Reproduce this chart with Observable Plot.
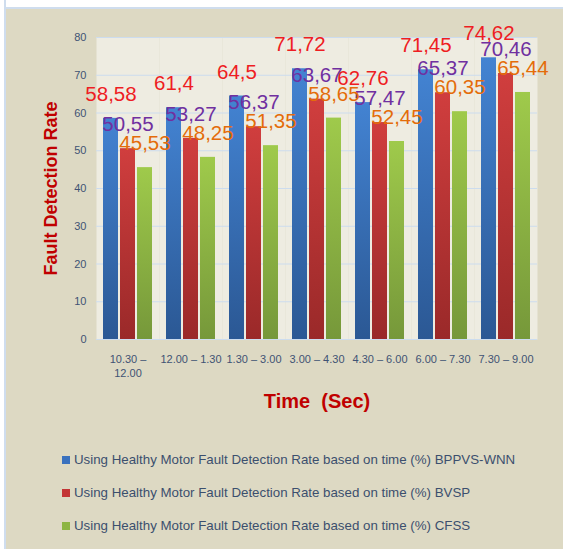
<!DOCTYPE html>
<html><head><meta charset="utf-8">
<script src="https://cdn.jsdelivr.net/npm/d3@7"></script>
<script src="https://cdn.jsdelivr.net/npm/@observablehq/plot@0.6"></script>
<style>
body{margin:0;background:#fff;}
#wrap{position:relative;width:563px;height:549px;background:#DDD9C3;overflow:hidden;font-family:"Liberation Sans",Arial,sans-serif;}
#edgeTop{position:absolute;left:0;top:0;width:563px;height:7px;background:#fff;border-bottom:2px solid #CFDDEE;}
#edgeLeft{position:absolute;left:0;top:0;width:4px;height:549px;background:#fff;border-right:2px solid #CFDDEE;}
#chart{position:absolute;left:0;top:0;}
#legend{position:absolute;left:62px;top:443px;}
.row{display:flex;align-items:center;height:33px;font-size:13.3px;color:#3B4F6E;white-space:nowrap;}
.sw{width:8px;height:8px;margin-right:4px;}
</style></head>
<body>
<div id="wrap">
  <div id="edgeTop"></div><div id="edgeLeft"></div>
  <div id="chart"></div>
  <div id="legend"></div>
</div>
<script>
const times = ["10.30 –\n12.00", "12.00 – 1.30", "1.30 – 3.00", "3.00 – 4.30", "4.30 – 6.00", "6.00 – 7.30", "7.30 – 9.00"];
const seriesKeys = ["BPPVS-WNN", "BVSP", "CFSS"];
const bppvsWnn = [58.58, 61.4, 64.5, 71.72, 62.76, 71.45, 74.62];
const bvsp = [50.55, 53.27, 56.37, 63.67, 57.47, 65.37, 70.46];
const cfss = [45.53, 48.25, 51.35, 58.65, 52.45, 60.35, 65.44];
const yTicks = [0, 10, 20, 30, 40, 50, 60, 70, 80];
const legendPrefix = "Using Healthy Motor Fault Detection Rate based on time (%) ";

const seriesValues = [bppvsWnn, bvsp, cfss];
const barFills = ["url(#gBlue)", "url(#gRed)", "url(#gGreen)"];
const labelColors = ["#EE1D23", "#7030A0", "#E46C0A"];
const swatches = ["#3A72BE", "#C33535", "#8DB543"];

const table = times.flatMap((t, i) => seriesKeys.map((s, j) => ({time: t, series: s, value: seriesValues[j][i]})));
const fmt = v => String(v).replace(".", ",");

const marks = [
  Plot.frame({fill: "#EEECE1", stroke: null}),
  Plot.gridY(yTicks, {stroke: "#CCDCEE", strokeOpacity: 1}),
  Plot.axisY({ticks: yTicks, tickSize: 0, tickPadding: 10, fontSize: 11, fill: "#3F5374",
    label: "Fault Detection Rate", labelAnchor: "center", labelOffset: 52, labelArrow: "none"}),
  Plot.axisFx({anchor: "bottom", tickSize: 0, tickPadding: 13, fontSize: 11, fill: "#3F5374", lineHeight: 1.3,
    label: "Time  (Sec)", labelAnchor: "center", labelOffset: 68, labelArrow: "none"})
];
seriesKeys.forEach((s, j) => {
  const d = table.filter(r => r.series === s);
  marks.push(Plot.barY(d, {fx: "time", x: "series", y: "value", fill: barFills[j]}));
});
seriesKeys.forEach((s, j) => {
  const d = table.filter(r => r.series === s);
  marks.push(Plot.text(d, {fx: "time", x: "series", y: "value", text: r => fmt(r.value), dy: -24,
    fill: labelColors[j], fontSize: 20.5, lineAnchor: "middle", textAnchor: "middle"}));
});

const chart = Plot.plot({
  width: 563, height: 430,
  marginTop: 37, marginBottom: 91, marginLeft: 94, marginRight: 24,
  style: {background: "transparent", fontFamily: "'Liberation Sans', Arial, sans-serif", overflow: "visible"},
  fx: {domain: times, padding: 0, label: null},
  x: {domain: seriesKeys, paddingInner: 0.111, paddingOuter: 0.322, axis: null},
  y: {domain: [0, 80], axis: null, label: null},
  marks
});

const ns = "http://www.w3.org/2000/svg";
const defs = document.createElementNS(ns, "defs");
const grads = [["gBlue", "#4383D2", "#2B5894"], ["gRed", "#D03E3E", "#9A2929"], ["gGreen", "#9FCA4B", "#76983A"]];
grads.forEach(([id, top, bot]) => {
  const g = document.createElementNS(ns, "linearGradient");
  g.setAttribute("id", id); g.setAttribute("x1", "0"); g.setAttribute("y1", "0"); g.setAttribute("x2", "0"); g.setAttribute("y2", "1");
  g.setAttribute("gradientUnits", "objectBoundingBox");
  [["0", top], ["1", bot]].forEach(([o, c]) => {
    const st = document.createElementNS(ns, "stop");
    st.setAttribute("offset", o); st.setAttribute("stop-color", c);
    g.appendChild(st);
  });
  defs.appendChild(g);
});
chart.insertBefore(defs, chart.firstChild);

chart.querySelectorAll('[aria-label="y-axis label"] text, [aria-label="fx-axis label"] text').forEach(t => {
  t.setAttribute("fill", "#C00000");
  t.setAttribute("font-weight", "bold");
  t.style.whiteSpace = "pre";
});
chart.querySelectorAll('[aria-label="y-axis label"]').forEach(g => { g.setAttribute("font-size", 18); g.setAttribute("fill", "#C00000"); });
chart.querySelectorAll('[aria-label="fx-axis label"]').forEach(g => { g.setAttribute("font-size", 20); g.setAttribute("fill", "#C00000"); });

document.getElementById("chart").appendChild(chart);

const legend = document.getElementById("legend");
seriesKeys.forEach((s, j) => {
  const row = document.createElement("div");
  row.className = "row";
  const sw = document.createElement("span");
  sw.className = "sw"; sw.style.background = swatches[j];
  const tx = document.createElement("span");
  tx.textContent = legendPrefix + s;
  row.appendChild(sw); row.appendChild(tx);
  legend.appendChild(row);
});
</script>
</body></html>
